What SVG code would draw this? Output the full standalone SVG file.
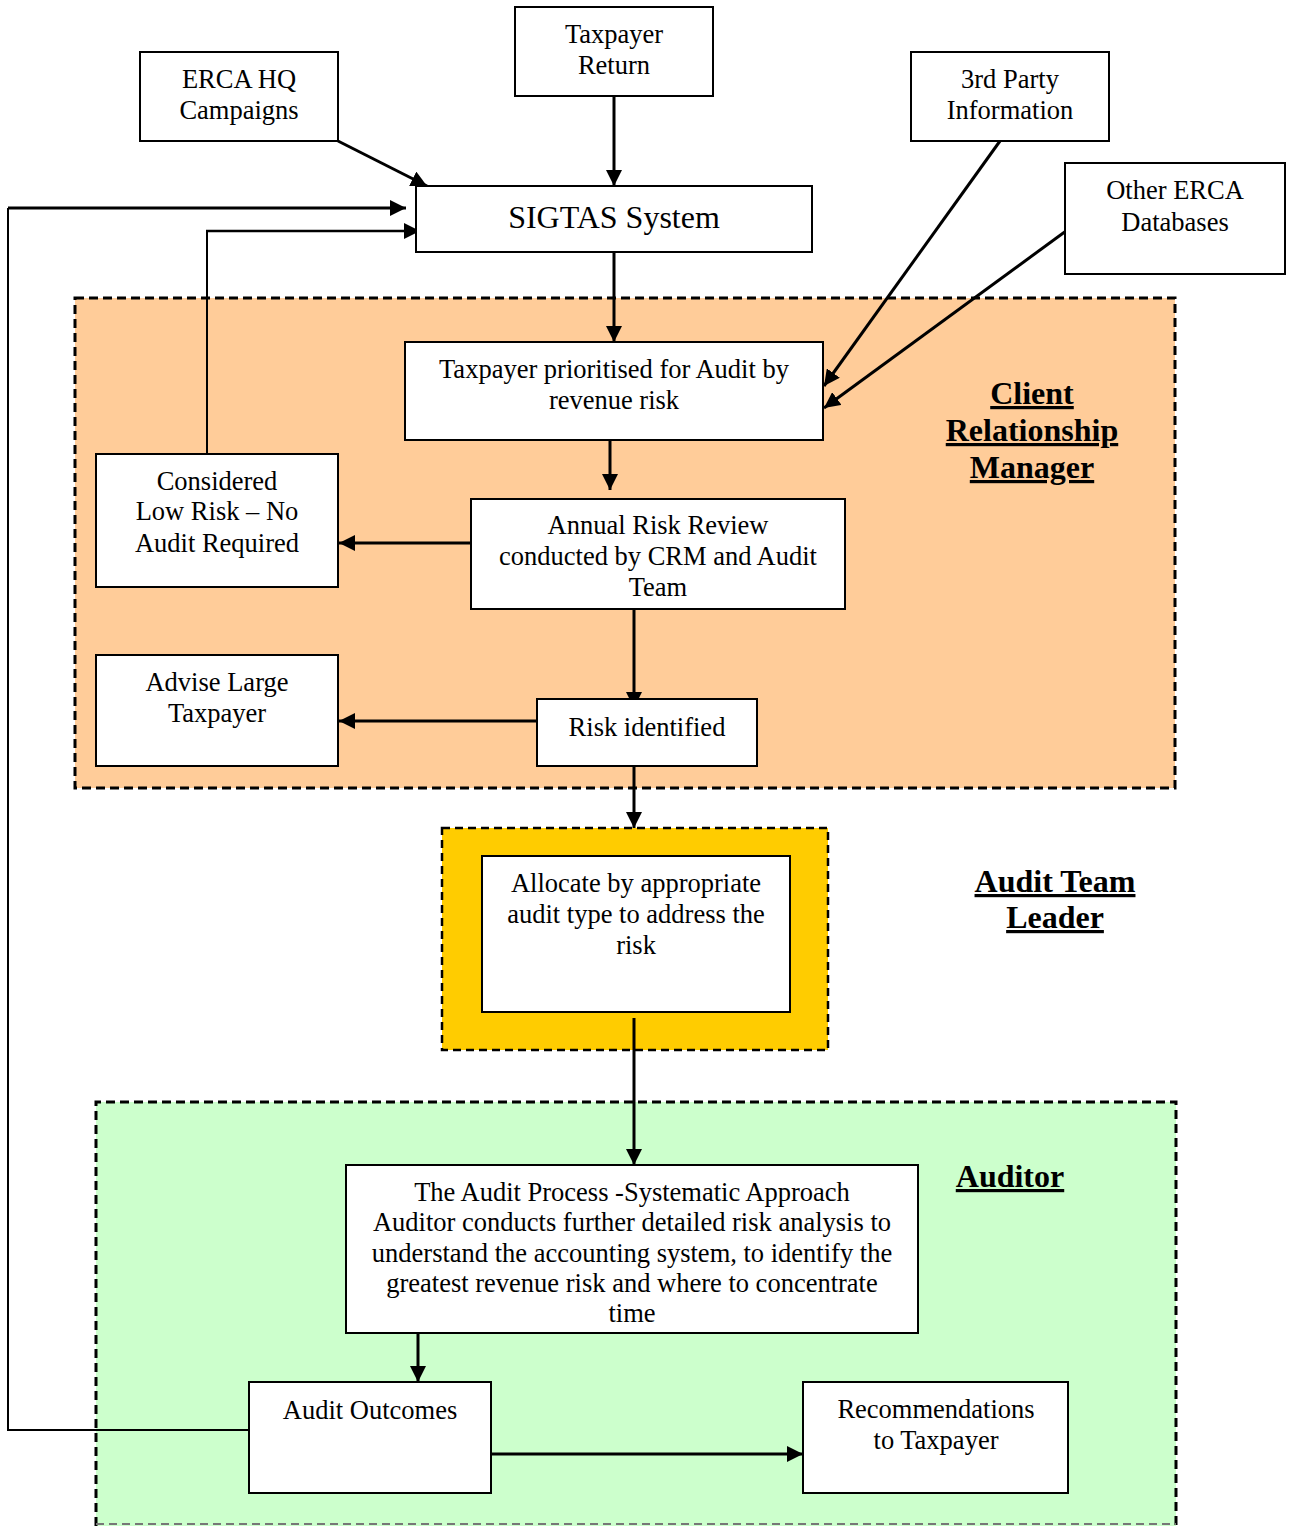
<svg xmlns="http://www.w3.org/2000/svg" width="1290" height="1526" viewBox="0 0 1290 1526">
<style>
.box{fill:#fff;stroke:#000;stroke-width:2}
.t{font-family:'Liberation Serif',serif;font-size:26.5px;fill:#000;text-anchor:middle}
.h{font-family:'Liberation Serif',serif;font-size:32px;font-weight:bold;fill:#000;text-anchor:middle;text-decoration:underline}
.c{fill:none;stroke:#000;stroke-width:3}
.thin{fill:none;stroke:#000;stroke-width:2}
</style>
<defs>
<marker id="a" viewBox="0 0 10 10" refX="10" refY="5" markerWidth="16" markerHeight="16" markerUnits="userSpaceOnUse" orient="auto">
<path d="M0,0 L10,5 L0,10 z" fill="#000"/>
</marker>
</defs>
<rect width="1290" height="1526" fill="#fff"/>
<g id="regions">
<rect id="crm-region" x="75" y="298" width="1100" height="490" fill="#FFCC99" stroke="#000" stroke-width="3" stroke-dasharray="9,5"/>
<rect id="atl-region" x="442" y="828" width="386" height="222" fill="#FFCC00" stroke="#000" stroke-width="2.5" stroke-dasharray="8,5"/>
<rect x="96" y="1102" width="1080" height="430" fill="#CCFFCC"/>
<path d="M96,1526 V1102 H1176 V1526" fill="none" stroke="#000" stroke-width="3" stroke-dasharray="9,5"/>
<path d="M96,1524 H1176" fill="none" stroke="#777" stroke-width="2" stroke-dasharray="8,5"/>
</g>
<g id="connectors">
<line class="c" x1="614" y1="96" x2="614" y2="186" marker-end="url(#a)"/>
<line class="c" x1="338" y1="141" x2="427" y2="186" marker-end="url(#a)"/>
<path class="thin" d="M257,1430 H8 V208"/>
<line class="c" x1="8" y1="208" x2="406" y2="208" marker-end="url(#a)"/>
<path class="thin" d="M207,454 V231"/>
<line class="c" x1="206" y1="231" x2="420" y2="231" marker-end="url(#a)" style="stroke-width:2.5"/>
<line class="c" x1="614" y1="252" x2="614" y2="342" marker-end="url(#a)"/>
<line class="c" x1="1000" y1="141" x2="824" y2="386" marker-end="url(#a)"/>
<line class="c" x1="1066" y1="231" x2="824" y2="408" marker-end="url(#a)"/>
<line class="c" x1="610" y1="440" x2="610" y2="490" marker-end="url(#a)"/>
<line class="c" x1="471" y1="543" x2="339" y2="543" marker-end="url(#a)"/>
<line class="c" x1="634" y1="609" x2="634" y2="708" marker-end="url(#a)"/>
<line class="c" x1="537" y1="721" x2="339" y2="721" marker-end="url(#a)"/>
<line class="c" x1="634" y1="754" x2="634" y2="828" marker-end="url(#a)"/>
<line class="c" x1="634" y1="1018" x2="634" y2="1165" marker-end="url(#a)"/>
<line class="c" x1="418" y1="1333" x2="418" y2="1382" marker-end="url(#a)"/>
<line class="c" x1="490" y1="1454" x2="803" y2="1454" marker-end="url(#a)"/>
</g>
<g id="erca-hq"><rect class="box" x="140" y="52" width="198" height="89"/><text class="t" x="239" y="88">ERCA HQ</text><text class="t" x="239" y="119">Campaigns</text></g>
<g id="taxpayer-return"><rect class="box" x="515" y="7" width="198" height="89"/><text class="t" x="614" y="43">Taxpayer</text><text class="t" x="614" y="74">Return</text></g>
<g id="third-party"><rect class="box" x="911" y="52" width="198" height="89"/><text class="t" x="1010" y="88">3rd Party</text><text class="t" x="1010" y="119">Information</text></g>
<g id="other-erca"><rect class="box" x="1065" y="163" width="220" height="111"/><text class="t" x="1175" y="199">Other ERCA</text><text class="t" x="1175" y="231">Databases</text></g>
<g id="sigtas"><rect class="box" x="416" y="186" width="396" height="66"/><text class="t" x="614" y="228" style="font-size:32px">SIGTAS System</text></g>
<g id="prioritised"><rect class="box" x="405" y="342" width="418" height="98"/><text class="t" x="614" y="378">Taxpayer prioritised for Audit by</text><text class="t" x="614" y="409">revenue risk</text></g>
<g id="crm-label"><text class="h" x="1032" y="404">Client</text><text class="h" x="1032" y="441">Relationship</text><text class="h" x="1032" y="478">Manager</text></g>
<g id="low-risk"><rect class="box" x="96" y="454" width="242" height="133"/><text class="t" x="217" y="490">Considered</text><text class="t" x="217" y="520">Low Risk – No</text><text class="t" x="217" y="552">Audit Required</text></g>
<g id="annual-review"><rect class="box" x="471" y="499" width="374" height="110"/><text class="t" x="658" y="534">Annual Risk Review</text><text class="t" x="658" y="565">conducted by CRM and Audit</text><text class="t" x="658" y="596">Team</text></g>
<g id="advise"><rect class="box" x="96" y="655" width="242" height="111"/><text class="t" x="217" y="691">Advise Large</text><text class="t" x="217" y="722">Taxpayer</text></g>
<g id="risk-identified"><rect class="box" x="537" y="699" width="220" height="67"/><text class="t" x="647" y="736">Risk identified</text></g>
<g id="allocate"><rect class="box" x="482" y="856" width="308" height="156"/><text class="t" x="636" y="892">Allocate by appropriate</text><text class="t" x="636" y="923">audit type to address the</text><text class="t" x="636" y="954">risk</text></g>
<g id="atl-label"><text class="h" x="1055" y="892">Audit Team</text><text class="h" x="1055" y="928">Leader</text></g>
<g id="audit-process"><rect class="box" x="346" y="1165" width="572" height="168"/><text class="t" x="632" y="1201">The Audit Process -Systematic Approach</text><text class="t" x="632" y="1231">Auditor conducts further detailed risk analysis to</text><text class="t" x="632" y="1262">understand the accounting system, to identify the</text><text class="t" x="632" y="1292">greatest revenue risk and where to concentrate</text><text class="t" x="632" y="1322">time</text></g>
<g id="auditor-label"><text class="h" x="1010" y="1187">Auditor</text></g>
<g id="audit-outcomes"><rect class="box" x="249" y="1382" width="242" height="111"/><text class="t" x="370" y="1419">Audit Outcomes</text></g>
<g id="recommendations"><rect class="box" x="803" y="1382" width="265" height="111"/><text class="t" x="936" y="1418">Recommendations</text><text class="t" x="936" y="1449">to Taxpayer</text></g>
</svg>
